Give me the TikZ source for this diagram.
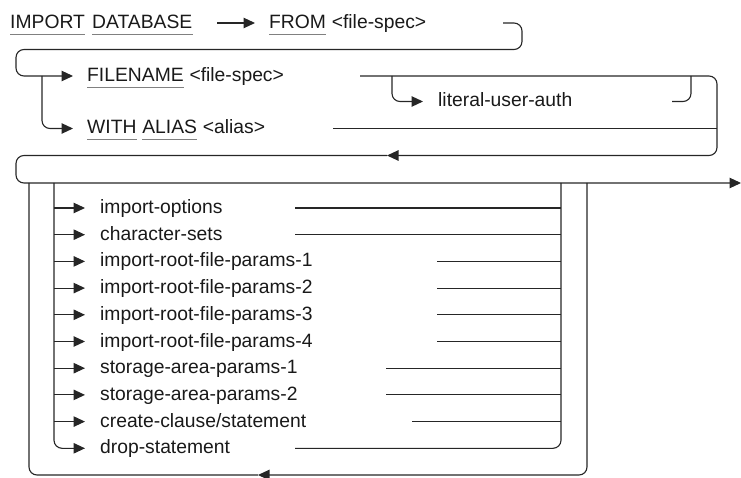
\documentclass[tikz,border=0pt]{standalone}
\usepackage{fontspec}
\setmainfont{Liberation Sans}
\usetikzlibrary{arrows.meta}
\begin{document}
\begin{tikzpicture}[x=1pt,y=-1pt,
  ln/.style={line width=1.1pt, draw=black!85},
  box/.style={ln, rounded corners=8pt},
  tip/.style={-{Triangle[length=11.5pt,width=10.5pt]}},
  lbl/.style={anchor=base west, inner sep=0pt, font=\fontsize{19.3}{23}\selectfont, text=black!90},
  ul/.style={line width=0.9pt, draw=black!50}]
\useasboundingbox (0,0) rectangle (741,478);
% row 1
\node[lbl] (imp) at (10,28.5) {IMPORT};
\node[lbl] (db) at (92,28.5) {DATABASE};
\coordinate (a1s) at (217,23);
\coordinate (a1e) at (255,23);
\draw[ln,tip] (a1s) -- (a1e);
\node[lbl] (from) at (269,28.5) {FROM};
\node[lbl] (fs1) at ([xshift=5.4pt]from.base east) {<file-spec>};
\coordinate (h1) at (503,23);
\coordinate (t2) at (73,76);
\coordinate (t3) at (73,128.5);
\coordinate (b2) at (42,76);
\draw[box,tip] (h1) -- (522,23) -- (522,49.5) -- (16,49.5) -- (16,76) -- (t2);
\draw[box,tip] (b2) -- (42,128.5) -- (t3);
% row 2
\node[lbl] (fname) at (87,81.5) {FILENAME};
\node[lbl] (fs2) at ([xshift=5.4pt]fname.base east) {<file-spec>};
\node[lbl] (with) at (87,134) {WITH};
\node[lbl] (alias) at ([xshift=5.4pt]with.base east) {ALIAS};
\node[lbl] (aliasv) at ([xshift=5.4pt]alias.base east) {<alias>};
\coordinate (fl) at (360,76);
\coordinate (ret) at (387,155.5);
\coordinate (mainend) at (741,183);
\draw[box,tip] (fl) -- (717,76) -- (717,155.5) -- (ret);
\draw[box,tip] (ret) -- (16,155.5) -- (16,183) -- (mainend);
% literal-user-auth
\coordinate (lb) at (392,76);
\coordinate (lt) at (423,101.5);
\draw[box,tip] (lb) -- (392,101.5) -- (lt);
\node[lbl] (lua) at (438,107) {literal-user-auth};
\coordinate (le) at (672,101.5);
\draw[box] (le) -- (691,101.5) -- (691,76);
\coordinate (wl) at (333,128.5);
\draw[ln] (wl) -- (717,128.5);
% underlines
\foreach \n in {imp,db,from,fname,with,alias}
  \draw[ul] ([yshift=-5.5pt]\n.base west) -- ([yshift=-5.5pt]\n.base east);
% loops
\coordinate (bt) at (258,475);
\draw[box,tip] (587,183) -- (587,475) -- (bt);
\draw[box] (bt) -- (29,475) -- (29,183);
\draw[box,tip] (54,183) -- (54,448.3) -- (85,448.3);
\node[lbl] (r9) at (100,453.8) {drop-statement};
\draw[box] (295,448.3) -- (561,448.3) -- (561,183);
\foreach \t/\s [count=\i from 0] in {import-options/295, character-sets/295,
  import-root-file-params-1/437, import-root-file-params-2/437,
  import-root-file-params-3/437, import-root-file-params-4/437,
  storage-area-params-1/386, storage-area-params-2/386,
  {create-clause/statement}/412}{
  \pgfmathsetmacro\yy{208+26.7*\i}
  \draw[ln,tip] (54,\yy) -- (85,\yy);
  \node[lbl] (r\i) at (100,\yy+5.5) {\t};
  \draw[ln] (\s,\yy) -- (561,\yy);
}
\end{tikzpicture}
\end{document}
